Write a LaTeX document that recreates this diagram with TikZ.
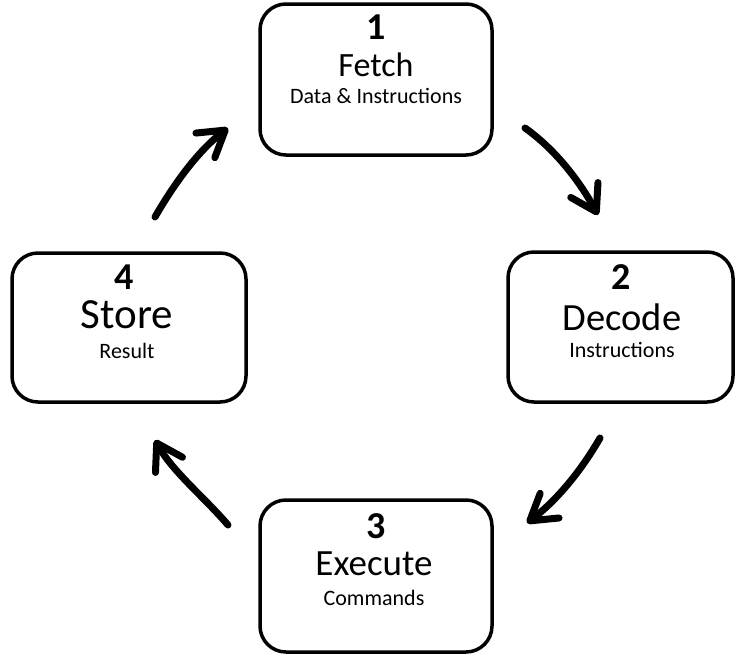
\documentclass[tikz,border=0pt]{standalone}
\usepackage{fontspec}
\setmainfont{Carlito}
\usetikzlibrary{arrows.meta}

\tikzset{
  stage/.style={draw=black, line width=3.5pt, rounded corners=26pt,
    inner sep=0pt, fill=white},
  num/.style={anchor=base, inner sep=0pt, font=\fontsize{38}{40}\selectfont\bfseries},
  title/.style={anchor=base, inner sep=0pt},
  sub/.style={anchor=base, inner sep=0pt, font=\fontsize{22}{24}\selectfont},
  flow/.style={line width=7pt, line cap=round,
    -{Straight Barb[length=25pt, width=31pt, round]}}
}

\begin{document}
\begin{tikzpicture}[x=1pt, y=-1pt]
\useasboundingbox (0,0) rectangle (735,656);

% the four stages of the cycle
\node[stage, minimum width=232pt, minimum height=151pt] (fetch)   at (376,79.5) {};
\node[stage, minimum width=225pt, minimum height=150pt] (decode)  at (620.5,327) {};
\node[stage, minimum width=232pt, minimum height=152pt] (execute) at (376,576) {};
\node[stage, minimum width=234pt, minimum height=149pt] (store)   at (129,327.5) {};

% stage labels
\node[num] (n1) at (376,39) {1};
\node[title, font=\fontsize{34}{40}\selectfont] (t1) at (376,76) {Fetch};
\node[sub] (s1) at (376,103) {Data \& Instructions};

\node[num] (n2) at (621,289) {2};
\node[title, font=\fontsize{38.5}{40}\selectfont] (t2) at (622,330) {Decode};
\node[sub] (s2) at (622,357) {Instructions};

\node[num] (n3) at (376,538) {3};
\node[title, font=\fontsize{37}{40}\selectfont] (t3) at (374,575) {Execute};
\node[sub] (s3) at (374,605) {Commands};

\node[num] (n4) at (124,289) {4};
\node[title, font=\fontsize{43}{46}\selectfont] (t4) at (127,328) {Store};
\node[sub] (s4) at (127,358) {Result};

% arrow end points between the stages
\coordinate (a1s) at (525,128);  \coordinate (a1e) at (598,215);
\coordinate (a2s) at (600,438);  \coordinate (a2e) at (527,523);
\coordinate (a3s) at (228,525);  \coordinate (a3e) at (155,440);
\coordinate (a4s) at (155,217);  \coordinate (a4e) at (228,128);

% curved arrows running clockwise
\draw[flow] (a1s) .. controls (556,150) and (580,182) .. (a1e);
\draw[flow] (a2s) .. controls (581,471) and (557,500) .. (a2e);
\draw[flow] (a3s) .. controls (204,497) and (173,472) .. (a3e);
\draw[flow] (a4s) .. controls (174,184) and (198,151) .. (a4e);
\end{tikzpicture}
\end{document}
